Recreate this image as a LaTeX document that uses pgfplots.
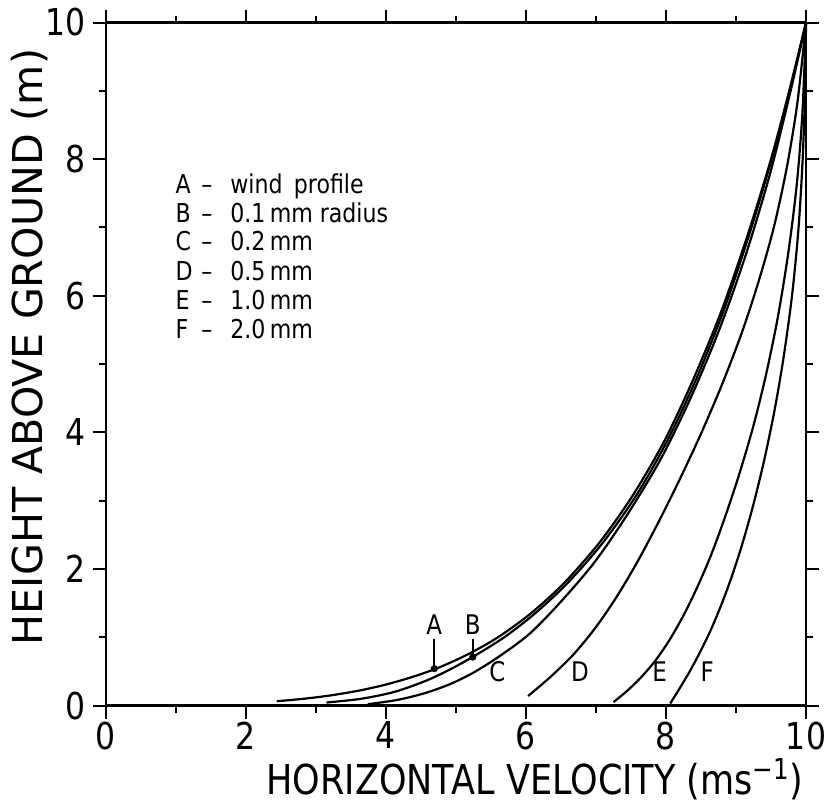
\documentclass[border=0pt]{standalone}
\usepackage{fontspec}
\setmainfont{DejaVu Sans}[FakeStretch=0.85]
\newfontfamily\ylabfont{DejaVu Sans}
\usepackage{pgfplots}
\pgfplotsset{compat=1.18}
\begin{document}
\begin{tikzpicture}
\begin{axis}[
  scale only axis, width=350pt, height=341.5pt,
  xmin=0, xmax=10, ymin=0, ymax=10,
  xtick={0,2,4,6,8,10}, ytick={0,2,4,6,8,10},
  minor x tick num=1, minor y tick num=1,
  tick align=outside,
  major tick length=6.5pt, minor tick length=3.5pt,
  every tick/.style={black, line width=1pt},
  axis line style={line width=1.2pt},
  tick label style={font=\fontsize{18.5}{20}\selectfont},
  xticklabel style={inner sep=1.5pt},
  /pgf/number format/assume math mode=true,
  clip=false,
]
% A wind profile
\addplot[black, line width=1.1pt, smooth, tension=0.5] coordinates {
(2.44,0.063) (2.83,0.1) (3.22,0.15) (3.62,0.22) (3.97,0.3) (4.35,0.41) (4.74,0.55) (5.17,0.75) (5.60,1.0) (6.07,1.35) (6.55,1.8) (7.06,2.4) (7.54,3.1) (7.99,3.9) (8.40,4.8) (8.80,5.8) (9.17,6.9) (9.50,8.0) (9.76,9.0) (10,10)};
% B 0.1 mm
\addplot[black, line width=1.1pt, smooth, tension=0.5] coordinates {
(3.15,0.044) (3.65,0.1) (4.12,0.2) (4.54,0.35) (4.86,0.5) (5.22,0.7) (5.69,1.0) (6.13,1.35) (6.60,1.8) (7.11,2.4) (7.59,3.1) (8.03,3.9) (8.44,4.8) (8.83,5.8) (9.19,6.9) (9.51,8.0) (9.77,9.0) (10,10)};
% C 0.2 mm
\addplot[black, line width=1.1pt, smooth, tension=0.5] coordinates {
(3.74,0.02) (4.15,0.08) (4.55,0.18) (4.93,0.32) (5.28,0.5) (5.66,0.75) (6.05,1.05) (6.48,1.5) (6.98,2.1) (7.45,2.8) (7.92,3.6) (8.35,4.5) (8.76,5.5) (9.14,6.6) (9.49,7.8) (9.78,9.0) (10,10)};
% D 0.5 mm
\addplot[black, line width=1.1pt, smooth, tension=0.5] coordinates {
(6.03,0.14) (6.35,0.42) (6.68,0.75) (7.0,1.15) (7.3,1.6) (7.6,2.12) (7.9,2.7) (8.2,3.32) (8.5,3.98) (8.8,4.7) (9.08,5.45) (9.32,6.2) (9.54,7.0) (9.73,7.9) (9.88,8.85) (10,10)};
% E 1.0 mm
\addplot[black, line width=1.1pt, smooth, tension=0.5] coordinates {
(7.25,0.05) (7.45,0.22) (7.65,0.42) (7.85,0.66) (8.05,0.96) (8.25,1.32) (8.45,1.74) (8.65,2.22) (8.85,2.78) (9.05,3.4) (9.25,4.1) (9.43,4.85) (9.6,5.7) (9.75,6.65) (9.87,7.65) (9.95,8.7) (10,10)};
% F 2.0 mm
\addplot[black, line width=1.1pt, smooth, tension=0.5] coordinates {
(8.06,0.03) (8.2,0.26) (8.35,0.52) (8.5,0.81) (8.65,1.13) (8.8,1.5) (8.95,1.92) (9.1,2.4) (9.25,2.95) (9.4,3.58) (9.55,4.32) (9.68,5.1) (9.8,6.0) (9.89,6.95) (9.95,7.95) (9.985,8.95) (10,10)};
% pointers
\addplot[black, line width=1pt] coordinates {(4.69,0.98) (4.69,0.54)};
\addplot[black, line width=1pt] coordinates {(5.24,0.98) (5.24,0.71)};
\addplot[black, only marks, mark=*, mark size=1.6pt] coordinates {(4.69,0.54) (5.24,0.71)};
% curve letters
\begin{scope}[every node/.style={font=\fontsize{13.5}{14}\selectfont, inner sep=0pt}]
\node at (axis cs:4.69,1.19) {A};
\node at (axis cs:5.24,1.19) {B};
\node at (axis cs:5.59,0.50) {C};
\node at (axis cs:6.77,0.50) {D};
\node at (axis cs:7.91,0.50) {E};
\node at (axis cs:8.59,0.50) {F};
\end{scope}
% key
\begin{scope}[every node/.style={font=\fontsize{13}{14}\selectfont, inner sep=0pt}]
\node[anchor=base west] at (axis cs:0.99,7.504) {A};
\node[anchor=base] at (axis cs:1.44,7.504) {–};
\node[anchor=base west] at (axis cs:1.77,7.504) {wind\, profile};
\node[anchor=base west] at (axis cs:0.99,7.079) {B};
\node[anchor=base] at (axis cs:1.44,7.079) {–};
\node[anchor=base west] at (axis cs:1.77,7.079) {0.1\,mm radius};
\node[anchor=base west] at (axis cs:0.99,6.655) {C};
\node[anchor=base] at (axis cs:1.44,6.655) {–};
\node[anchor=base west] at (axis cs:1.77,6.655) {0.2\,mm};
\node[anchor=base west] at (axis cs:0.99,6.230) {D};
\node[anchor=base] at (axis cs:1.44,6.230) {–};
\node[anchor=base west] at (axis cs:1.77,6.230) {0.5\,mm};
\node[anchor=base west] at (axis cs:0.99,5.805) {E};
\node[anchor=base] at (axis cs:1.44,5.805) {–};
\node[anchor=base west] at (axis cs:1.77,5.805) {1.0\,mm};
\node[anchor=base west] at (axis cs:0.99,5.381) {F};
\node[anchor=base] at (axis cs:1.44,5.381) {–};
\node[anchor=base west] at (axis cs:1.77,5.381) {2.0\,mm};
\end{scope}
% axis labels
\node[font=\fontsize{20.6}{22}\selectfont, inner sep=0pt] at (axis cs:6.13,-1.08) {HORIZONTAL VELOCITY (ms\textsuperscript{−1})};
\node[font=\ylabfont\fontsize{20.6}{22}\selectfont, inner sep=0pt, rotate=90] at (axis cs:-1.09,5.25) {HEIGHT ABOVE GROUND (m)};
\coordinate (bbSW) at (axis cs:-1.514,-1.47);
\coordinate (bbNE) at (axis cs:10.257,10.33);
\end{axis}
\pgfresetboundingbox
\path (bbSW) rectangle (bbNE);
\end{tikzpicture}
\end{document}
